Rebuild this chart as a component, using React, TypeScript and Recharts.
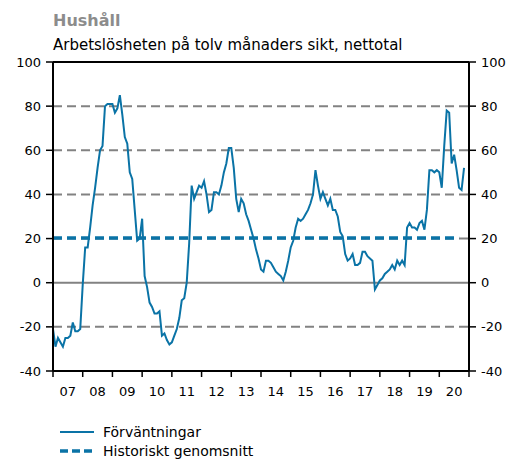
import { Line, LineChart, ReferenceLine, XAxis, YAxis } from "recharts";

const FONT = "DejaVu Sans, Verdana, sans-serif";
const BLUE = "#0a73a6";
const GRID = "#828282";

// Förväntningar, monthly from Jan 2007
const FORVANTNINGAR = [
  -21, -29, -25, -27, -29, -25, -25, -24, -18, -22, -22, -21,
  -1, 16, 16, 25, 35, 43, 52, 60, 62, 80, 81, 81,
  81, 77, 79, 85, 76, 66, 63, 50, 47, 33, 19, 20,
  29, 3, -2, -9, -11, -14, -14, -13, -24, -23, -26, -28,
  -27, -24, -21, -16, -8, -7, 0, 18, 44, 38, 41, 44,
  43, 46, 40, 32, 33, 41, 41, 40, 44, 50, 54, 61,
  61, 52, 38, 32, 38, 36, 31, 28, 24, 20, 15, 11,
  6, 5, 10, 10, 9, 7, 5, 4, 3, 1, 5, 10,
  16, 19, 25, 29, 28, 29, 31, 33, 36, 40, 51, 44,
  38, 41, 38, 35, 38, 33, 33, 30, 23, 21, 13, 10,
  11, 13, 8, 8, 9, 14, 14, 12, 11, 10, -3, -1,
  1, 2, 4, 5, 6, 8, 6, 10, 8, 10, 8, 25,
  27, 25, 25, 24, 27, 28, 24, 33, 51, 51, 50, 51,
  50, 43, 62, 78, 77, 54, 58, 51, 43, 42, 52,
];
const HIST_AVG = 20.3;
const AVG_LAST_MONTH = 164;

const YEAR_LABELS = ["07", "08", "09", "10", "11", "12", "13", "14", "15", "16", "17", "18", "19", "20"];
const Y_TICKS = [-40, -20, 0, 20, 40, 60, 80, 100];
const DASHED_GRID = [80, 60, 40, 20, -20];

const data = FORVANTNINGAR.map((v, i) => ({
  m: i,
  f: v,
  avg: i <= AVG_LAST_MONTH ? HIST_AVG : null,
}));

const xTicks: number[] = [];
YEAR_LABELS.forEach((_, i) => {
  xTicks.push(i * 12, i * 12 + 6);
});
xTicks.push(YEAR_LABELS.length * 12);

function YearTick(props: any) {
  const { x, y, payload } = props;
  const v = payload.value as number;
  if (v % 12 === 0) {
    return <line x1={x} x2={x} y1={y} y2={y + 6} stroke="#000" strokeWidth={1.5} />;
  }
  const label = YEAR_LABELS[Math.floor(v / 12)];
  return (
    <text x={x} y={y + 25} textAnchor="middle" fontSize={13} fontFamily={FONT} fill="#000">
      {label}
    </text>
  );
}

export default function App() {
  return (
    <div style={{ position: "relative", width: 522, height: 459, background: "#fff" }}>
      <style>{"body{margin:0}"}</style>
      <LineChart
        width={522}
        height={459}
        data={data}
        margin={{ top: 62, right: 0, bottom: 58, left: 0 }}
      >
        <XAxis
          dataKey="m"
          type="number"
          domain={[0, 168]}
          ticks={xTicks}
          interval={0}
          tick={<YearTick />}
          tickLine={false}
          tickSize={0}
          tickMargin={0}
          height={30}
          axisLine={{ stroke: "#000", strokeWidth: 2 }}
        />
        <YAxis
          yAxisId="left"
          domain={[-40, 100]}
          ticks={Y_TICKS}
          interval={0}
          width={53}
          tickSize={7}
          tickMargin={5}
          tick={{ fill: "#000", fontSize: 13, fontFamily: FONT }}
          tickLine={{ stroke: "#000", strokeWidth: 1.5 }}
          axisLine={{ stroke: "#000", strokeWidth: 2 }}
        />
        <YAxis
          yAxisId="right"
          orientation="right"
          domain={[-40, 100]}
          ticks={Y_TICKS}
          interval={0}
          width={53}
          tickSize={7}
          tickMargin={5}
          tick={{ fill: "#000", fontSize: 13, fontFamily: FONT }}
          tickLine={{ stroke: "#000", strokeWidth: 1.5 }}
          axisLine={{ stroke: "#000", strokeWidth: 2 }}
        />
        {DASHED_GRID.map((g) => (
          <ReferenceLine key={g} yAxisId="left" y={g} stroke={GRID} strokeWidth={2} strokeDasharray="9 5" />
        ))}
        <ReferenceLine yAxisId="left" y={0} stroke={GRID} strokeWidth={2} />
        <ReferenceLine yAxisId="left" y={100} stroke="#000" strokeWidth={2} />
        <Line
          yAxisId="right"
          dataKey="avg"
          stroke={BLUE}
          strokeWidth={3.5}
          strokeDasharray="9 5"
          dot={false}
          isAnimationActive={false}
        />
        <Line
          yAxisId="left"
          dataKey="f"
          stroke={BLUE}
          strokeWidth={2}
          dot={false}
          isAnimationActive={false}
        />
      </LineChart>
      <svg
        width={522}
        height={459}
        style={{ position: "absolute", left: 0, top: 0, pointerEvents: "none" }}
      >
        <text x={53} y={26} fontSize={16} fontWeight="bold" fontFamily={FONT} fill="#8c8c8c">
          Hushåll
        </text>
        <text x={53} y={50} fontSize={15} fontFamily={FONT} fill="#000">
          Arbetslösheten på tolv månaders sikt, nettotal
        </text>
        <line x1={60} x2={94} y1={432} y2={432} stroke={BLUE} strokeWidth={2} />
        <text x={103} y={437} fontSize={14} fontFamily={FONT} fill="#000">
          Förväntningar
        </text>
        <line x1={60} x2={94} y1={451} y2={451} stroke={BLUE} strokeWidth={3.5} strokeDasharray="8 4" />
        <text x={103} y={456} fontSize={14} fontFamily={FONT} fill="#000">
          Historiskt genomsnitt
        </text>
      </svg>
    </div>
  );
}
